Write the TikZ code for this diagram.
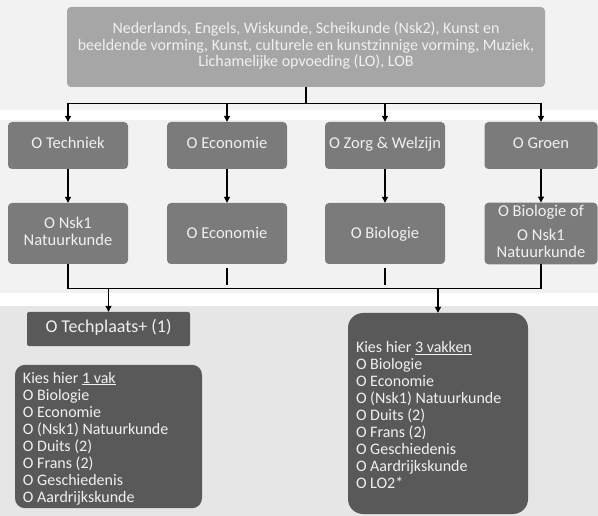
\documentclass[tikz,border=0pt]{standalone}
\usepackage{fontspec}
\setmainfont{Carlito}
\usepackage{xcolor}
\usetikzlibrary{arrows.meta,calc}
\definecolor{bandgray}{HTML}{F2F2F2}
\definecolor{lowgray}{HTML}{E6E6E6}
\definecolor{topgray}{HTML}{A6A6A6}
\definecolor{midgray}{HTML}{7B7B7B}
\definecolor{darkgray}{HTML}{595959}
\definecolor{paletext}{HTML}{F0F0F0}

\begin{document}
\begin{tikzpicture}[x=1pt,y=-1pt,
  box/.style={fill=midgray,rounded corners=4pt,text=paletext,align=center,inner sep=2pt,
    minimum width=120pt,font=\fontsize{16.5}{17}\selectfont,
    execute at begin node=\strut,execute at end node=\strut},
  lowtext/.style={execute at begin node={\rule{0pt}{15pt}}},
  listbox/.style={fill=darkgray,text=paletext,align=flush left,inner xsep=8pt,
    font=\fontsize{16}{17}\selectfont,execute at begin node={\rule{0pt}{15pt}}},
  link/.style={line width=1.2pt},
  arr/.style={link,-{Triangle[width=6pt,length=6pt]}}]
\fill[bandgray] (0,0) rectangle (598,110);
\fill[white] (0,110) rectangle (598,120);
\fill[bandgray] (0,120) rectangle (598,293);
\fill[white] (0,293) rectangle (598,306);
\fill[lowgray] (0,306) rectangle (598,516);
\useasboundingbox (0,0) rectangle (598,516);

\node[box,lowtext,fill=topgray,minimum width=478pt,minimum height=80pt,font=\fontsize{16}{16.5}\selectfont]
  (top) at (306,47) {Nederlands, Engels, Wiskunde, Scheikunde (Nsk2), Kunst en\\
  beeldende vorming, Kunst, culturele en kunstzinnige vorming, Muziek,\\
  Lichamelijke opvoeding (LO), LOB};

\node[box,minimum height=47pt] (g1) at (68,145.5) {O Techniek};
\node[box,minimum height=47pt] (g2) at (227,145.5) {O Economie};
\node[box,minimum height=47pt] (g3) at (385,145.5) {O Zorg \& Welzijn};
\node[box,minimum height=47pt,minimum width=113pt] (g4) at (541,145.5) {O Groen};

\node[box,minimum height=61pt] (n1) at (68,233.5) {O Nsk1\\Natuurkunde};
\node[box,lowtext,minimum height=61pt] (n2) at (227,233.5) {O Economie};
\node[box,lowtext,minimum height=61pt] (n3) at (385,233.5) {O Biologie};
\node[box,minimum height=61pt,minimum width=113pt] (n4) at (541,233.5)
  {O Biologie of\\[7pt]O Nsk1\\Natuurkunde};

\node[box,fill=darkgray,rounded corners=2pt,minimum width=163pt,minimum height=34pt,
  font=\fontsize{18}{20}\selectfont] (tp) at (108.5,329) {O Techplaats+ (1)};

\node[listbox,rounded corners=10pt,text width=171pt,minimum height=137pt] (vak1) at (108.5,436.5)
  {Kies hier \underline{1 vak}\\O Biologie\\O Economie\\O (Nsk1) Natuurkunde\\
   O Duits (2)\\O Frans (2)\\O Geschiedenis\\O Aardrijkskunde};

\node[listbox,rounded corners=15pt,text width=164pt,minimum height=201pt] (vak3) at (438,413.5)
  {Kies hier \underline{3 vakken}\\O Biologie\\O Economie\\O (Nsk1) Natuurkunde\\
   O Duits (2)\\O Frans (2)\\O Geschiedenis\\O Aardrijkskunde\\O LO2*};

\foreach \i in {1,...,4}{
  \draw[arr] (top.south) |- ($(g\i.north)+(0,-18)$) -- (g\i.north);
  \draw[arr] (g\i.south) -- (n\i.north);
}
\draw[link] (n1.south) -- ++(0,24) coordinate (join) -| (n4.south);
\draw[link] ($(n2.south)+(0,4)$) -- ++(0,17);
\draw[link] ($(n3.south)+(0,4)$) -- ++(0,17);
\draw[arr] (join -| tp.north) -- (tp.north);
\draw[arr] (join -| vak3.north) -- (vak3.north);
\end{tikzpicture}
\end{document}
